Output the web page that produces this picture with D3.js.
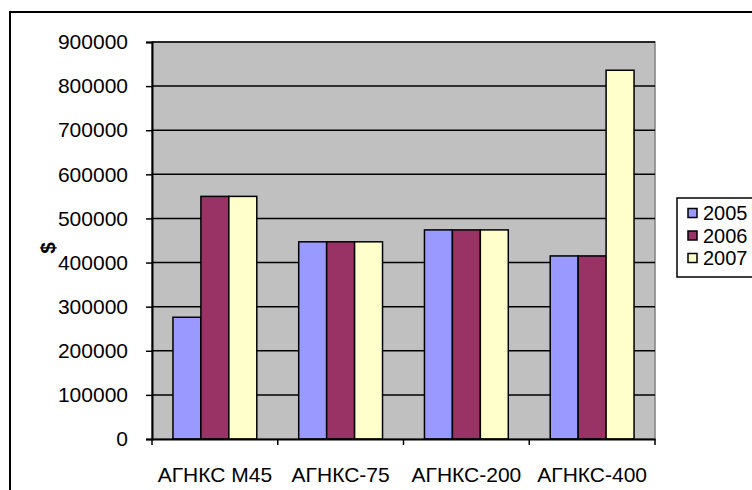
<!DOCTYPE html>
<html>
<head>
<meta charset="utf-8">
<script src="https://cdn.jsdelivr.net/npm/d3@7"></script>
<style>
  body { margin: 0; background: #fff; }
  svg { font-family: "Liberation Sans", Arial, sans-serif; }
</style>
</head>
<body>
<script>

var categories = ["АГНКС М45", "АГНКС-75", "АГНКС-200", "АГНКС-400"];
var years = ["2005", "2006", "2007"];
var values2005 = [276000, 447000, 474000, 415000];
var values2006 = [550000, 447000, 474000, 415000];
var values2007 = [550000, 447000, 474000, 836000];
var yTicks = [0, 100000, 200000, 300000, 400000, 500000, 600000, 700000, 800000, 900000];
var colors = ["#9999FF", "#993366", "#FFFFCC"];

var series = [values2005, values2006, values2007];

var svgWidth = 752, svgHeight = 490;
var margin = {left: 152, top: 42};
var width = 503, height = 397;

var svg = d3.select("body").append("svg")
    .attr("width", svgWidth).attr("height", svgHeight);

// outer chart border
svg.append("rect")
    .attr("x", 10).attr("y", 12)
    .attr("width", 800).attr("height", 500)
    .attr("fill", "#fff").attr("stroke", "#000").attr("stroke-width", 2);

//SCALES
var yScale = d3.scaleLinear().domain([0, 900000]).range([height, 0]);

var xScale = d3.scaleBand().domain(categories).range([0, width])
    .paddingInner(1 / 3).paddingOuter(1 / 6);

var innerScale = d3.scaleBand().domain(years).range([0, xScale.bandwidth()]);

var chartGroup = svg.append("g")
    .attr("transform", "translate(" + margin.left + "," + margin.top + ")");

// plot area
chartGroup.append("rect")
    .attr("width", width).attr("height", height)
    .attr("fill", "#C0C0C0").attr("stroke", "#808080").attr("stroke-width", 1.5);

// gridlines
chartGroup.selectAll(".grid").data(yTicks.slice(1)).enter().append("line")
    .attr("x1", 0).attr("x2", width)
    .attr("y1", function(d) { return yScale(d); })
    .attr("y2", function(d) { return yScale(d); })
    .attr("stroke", "#000").attr("stroke-width", 1.5);

// bars
var groups = chartGroup.selectAll(".cat").data(categories).enter().append("g")
    .attr("transform", function(d) { return "translate(" + xScale(d) + ",0)"; });

groups.selectAll("rect")
    .data(function(d, i) { return years.map(function(y, j) { return {year: y, value: series[j][i], k: j}; }); })
    .enter().append("rect")
    .attr("x", function(d) { return innerScale(d.year); })
    .attr("width", innerScale.bandwidth())
    .attr("y", function(d) { return yScale(d.value); })
    .attr("height", function(d) { return height - yScale(d.value); })
    .attr("fill", function(d) { return colors[d.k]; })
    .attr("stroke", "#000").attr("stroke-width", 1.5);

//AXIS
var yAxis = d3.axisLeft(yScale).tickValues(yTicks).tickSize(6).tickPadding(18)
    .tickFormat(d3.format("d"));

var yg = chartGroup.append("g").call(yAxis);
yg.select(".domain").attr("stroke-width", 2);
yg.selectAll(".tick line").attr("stroke-width", 1.5);
yg.selectAll("text").attr("font-size", 21).attr("fill", "#000")
    .style("font-family", "Liberation Sans, Arial, sans-serif");

var xAxis = d3.axisBottom(xScale).tickSize(0).tickPadding(28);
var xg = chartGroup.append("g")
    .attr("transform", "translate(0," + height + ")")
    .call(xAxis);
xg.select(".domain").attr("stroke-width", 2);
xg.selectAll("text").attr("font-size", 21).attr("fill", "#000")
    .style("font-family", "Liberation Sans, Arial, sans-serif");

// category boundary ticks
var bounds = d3.range(categories.length + 1).map(function(i) { return i * xScale.step(); });
xg.selectAll(".btick").data(bounds).enter().append("line")
    .attr("x1", function(d) { return d; }).attr("x2", function(d) { return d; })
    .attr("y1", 0).attr("y2", 6)
    .attr("stroke", "#000").attr("stroke-width", 1.5);

// y label
svg.append("text")
    .attr("transform", "translate(47,248) rotate(-90)")
    .attr("text-anchor", "middle").attr("dominant-baseline", "central")
    .attr("font-size", 21).attr("font-weight", "bold")
    .text("$");

// LEGEND
var legend = svg.append("g").attr("transform", "translate(677,198)");
legend.append("rect")
    .attr("width", 100).attr("height", 79)
    .attr("fill", "#fff").attr("stroke", "#000").attr("stroke-width", 1.5);

var items = legend.selectAll(".item").data(years).enter().append("g")
    .attr("transform", function(d, i) { return "translate(0," + (15 + i * 22.5) + ")"; });

items.append("rect")
    .attr("x", 11).attr("y", -4.5).attr("width", 9).attr("height", 9)
    .attr("fill", function(d, i) { return colors[i]; })
    .attr("stroke", "#000").attr("stroke-width", 1.5);

items.append("text")
    .attr("x", 26).attr("dy", "0.35em")
    .attr("font-size", 20)
    .text(function(d) { return d; });

</script>
</body>
</html>
